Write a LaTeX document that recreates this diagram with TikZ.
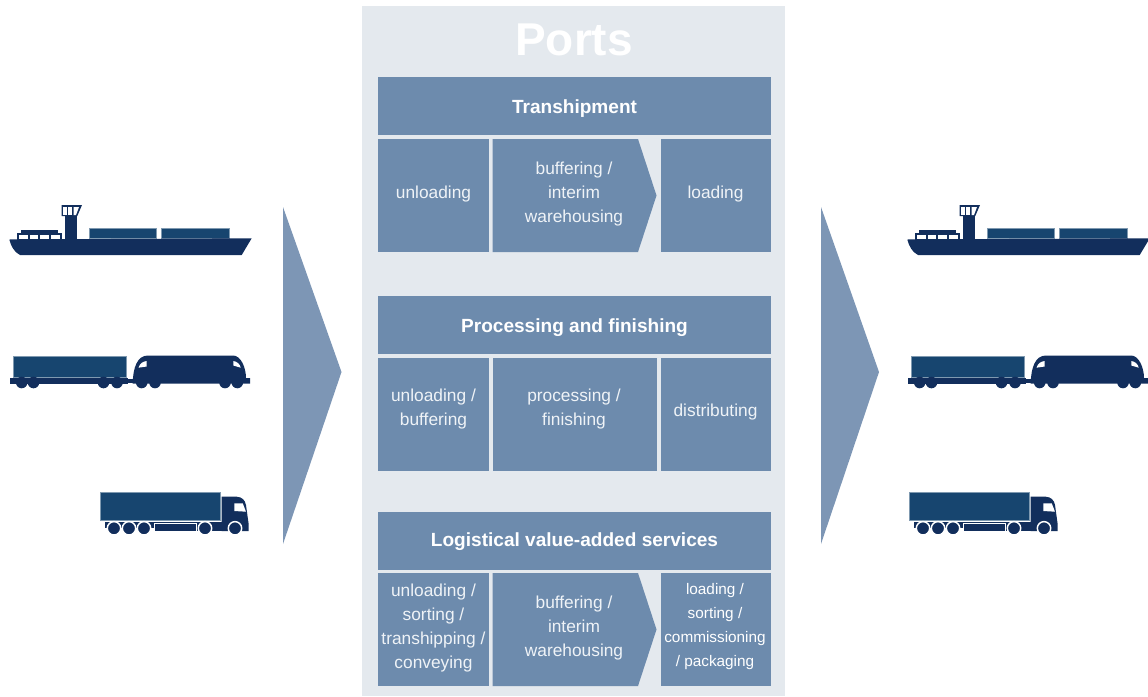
\documentclass[tikz,border=0pt]{standalone}
\usepackage{fontspec}
\setmainfont{Liberation Sans}
\definecolor{panel}{HTML}{E4E9EE}
\definecolor{boxc}{HTML}{6D8BAD}
\definecolor{arrowc}{HTML}{7D96B5}
\definecolor{navy}{HTML}{122E5C}
\definecolor{cont}{HTML}{17456F}
\definecolor{txt}{HTML}{EFF3F7}
\tikzset{
  x=0.75pt,y=-0.75pt,
  headbox/.style={inner sep=0pt,text=white,align=center,font=\fontsize{14.3}{18}\bfseries\selectfont},
  cellcap/.style={text=txt,align=center,inner sep=0pt,font=\fontsize{13}{18}\selectfont},
  smallcap/.style={text=white,align=center,inner sep=0pt,font=\fontsize{11.5}{18}\selectfont},
  bigarrow/.style={fill=arrowc},
  ink/.style={fill=navy},
  crate/.style={fill=cont,draw=cont!55!white,line width=0.5pt},
  gap/.style={fill=white},
  ship/.pic={
    \fill[crate] (89,228.5) rectangle (156,238.5);
    \fill[crate] (161.7,228.5) rectangle (229.3,238.5);
    \fill[ink] (9.3,239.5) -- (251.7,238.3) -- (241.7,255) -- (20,255) .. controls (14,252) and (11,246) .. cycle;
    \fill[ink] (65,216) rectangle (77.3,240);
    \fill[ink] (61.7,205) -- (82,205) -- (77.3,216) -- (61.7,216) -- cycle;
    \fill[gap] (63.3,207) rectangle (67.3,215);
    \fill[gap] (68.3,207) rectangle (72,215);
    \fill[gap] (73.7,207) -- (79,207) -- (76,215) -- (73.7,215) -- cycle;
    \fill[ink] (17.3,233) rectangle (61.7,240);
    \fill[ink] (20.7,229.7) rectangle (58.3,233.5);
    \fill[gap] (19,235) rectangle (27.7,239);
    \fill[gap] (30,235) rectangle (38.3,239);
    \fill[gap] (40,235) rectangle (49,239);
    \fill[gap] (51,235) rectangle (60,239);
  },
  rail/.pic={
    \fill[crate] (13.3,356.7) rectangle (126,377.3);
    \fill[ink] (10,378) rectangle (128,383.5);
    \fill[ink] (128,379) rectangle (134,382.5);
    \foreach \wx in {21.7,33.5,103.5,117}{\fill[ink] (\wx,382.5) circle[radius=5.8];}
    \fill[ink] (132.7,383.5) .. controls (133,368) and (137,355.5) .. (148,355.5) -- (233,355.5) .. controls (241,355.5) and (246,368) .. (246,378) -- (250,378) -- (250,383.5) -- cycle;
    \foreach \wx in {141.7,155,225,237.3}{\fill[ink] (\wx,382.5) circle[radius=5.8];}
    \fill[gap] (138.5,367.7) .. controls (140,363) and (143,361.5) .. (146.7,361) -- (146.7,366.5) -- cycle;
    \fill[gap] (233.3,361) .. controls (237,361.5) and (240,364) .. (240.7,367.7) -- (233.3,365.5) -- cycle;
  },
  truck/.pic={
    \fill[crate] (100,492.3) rectangle (220.7,520.7);
    \fill[ink] (105,521.5) rectangle (222,528);
    \fill[ink] (221.7,496.7) -- (236.7,496.7) .. controls (242,497) and (245,500) .. (246,505) -- (248.5,523) -- (248.5,531) -- (221.7,531) -- cycle;
    \fill[ink] (196,527) rectangle (222,531);
    \fill[gap] (234.3,503.3) -- (242.7,503.3) -- (246,511.7) -- (234.3,511) -- cycle;
    \fill[navy,draw=white,line width=0.7pt] (154,523.3) rectangle (196,531);
    \foreach \wx in {114,129,144,205,235}{\fill[navy,draw=white,line width=1.1pt] (\wx,528.3) circle[radius=6.7];}
  }
}
\begin{document}
\begin{tikzpicture}
\useasboundingbox (0,0) rectangle (1148,696);
\fill[panel] (362,6) rectangle (785,696);
\node[text=white,inner sep=0pt,font=\fontsize{34.5}{36}\bfseries\selectfont] (title) at (574,40) {Ports};
% big arrows
\fill[bigarrow] (283,207) -- (341.5,372) -- (283,544) -- cycle;
\fill[bigarrow] (821,207) -- (879,372) -- (821,544) -- cycle;
% Transhipment
\fill[boxc] (378,77) rectangle (771,135);
\node[headbox] (h1t) at (574.5,109) {Transhipment};
\fill[boxc] (378,139) rectangle (489,252);
\node[cellcap] (a1t) at (433.5,194) {unloading};
\fill[boxc] (492.5,139) -- (638,139) -- (656.5,195.5) -- (638,252) -- (492.5,252) -- cycle;
\node[cellcap] (b1) at (574,194) {buffering /\\interim\\warehousing};
\fill[boxc] (661,139) rectangle (771,252);
\node[cellcap] (c1t) at (715.5,194) {loading};
% Processing
\fill[boxc] (378,296) rectangle (771,354);
\node[headbox] (h2t) at (574.5,328) {Processing and finishing};
\fill[boxc] (378,358) rectangle (489,471);
\node[cellcap] (a2t) at (433.5,409) {unloading /\\buffering};
\fill[boxc] (492.5,358) rectangle (656.5,471);
\node[cellcap] (b2t) at (574,409) {processing /\\finishing};
\fill[boxc] (661,358) rectangle (771,471);
\node[cellcap] (c2t) at (715.5,412) {distributing};
% Logistical
\fill[boxc] (378,512) rectangle (771,570);
\node[headbox] (h3t) at (574.5,542) {Logistical value-added services};
\fill[boxc] (378,573) rectangle (489,686);
\node[cellcap] (a3t) at (433.5,628) {unloading /\\sorting /\\transhipping /\\conveying};
\fill[boxc] (492.5,573) -- (638,573) -- (656.5,629.5) -- (638,686) -- (492.5,686) -- cycle;
\node[cellcap] (b3) at (574,628) {buffering /\\interim\\warehousing};
\fill[boxc] (661,573) rectangle (771,686);
\node[smallcap] (c3) at (715,627) {loading /\\sorting /\\commissioning\\/ packaging};
% vehicles
\pic at (0,0) {ship};
\pic at (0,0) {rail};
\pic at (0,0) {truck};
\pic at (898,0) {ship};
\pic at (898,0) {rail};
\pic at (809,0) {truck};
\end{tikzpicture}
\end{document}
